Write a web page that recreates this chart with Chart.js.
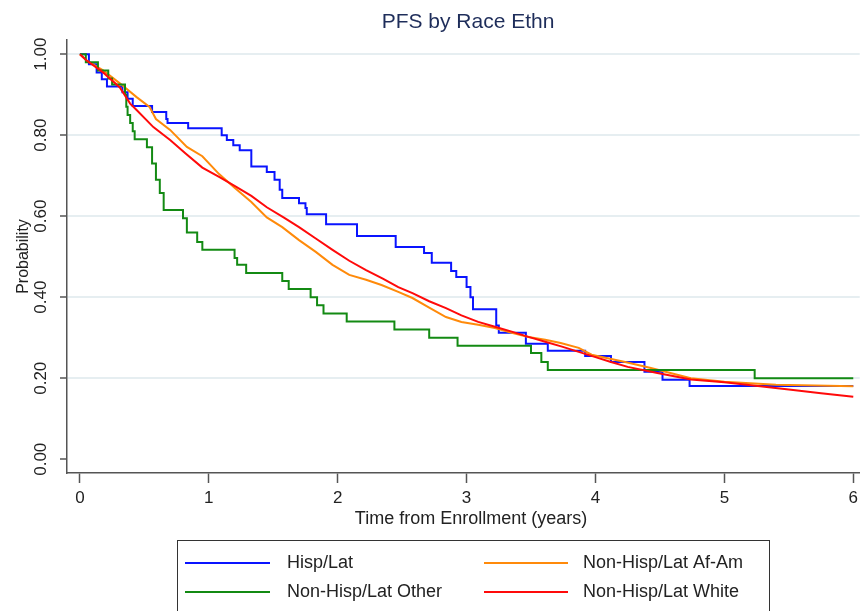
<!DOCTYPE html>
<html>
<head>
<meta charset="utf-8">
<script src="https://cdn.jsdelivr.net/npm/chart.js@4.4.1/dist/chart.umd.min.js"></script>
<style>
  html, body { margin: 0; padding: 0; background: #fff; }
  #km { display: block; }
</style>
</head>
<body>
<canvas id="km" width="863" height="611"></canvas>
<script>
// Kaplan-Meier PFS estimates, years from enrollment vs survival probability
const hispTime = [0, 0.07, 0.13, 0.17, 0.21, 0.33, 0.37, 0.41, 0.56, 0.67, 0.68, 0.84, 1.10, 1.14, 1.19, 1.24, 1.33, 1.45, 1.51, 1.55, 1.57, 1.70, 1.75, 1.76, 1.91, 2.15, 2.45, 2.67, 2.73, 2.88, 2.92, 3.00, 3.03, 3.05, 3.23, 3.25, 3.46, 3.63, 3.92, 4.12, 4.38, 4.52, 4.73, 6.00];
const hispSurv = [1, 0.975, 0.955, 0.938, 0.92, 0.906, 0.89, 0.872, 0.857, 0.84, 0.83, 0.817, 0.80, 0.788, 0.775, 0.763, 0.723, 0.709, 0.69, 0.665, 0.645, 0.632, 0.62, 0.605, 0.58, 0.551, 0.524, 0.509, 0.485, 0.465, 0.45, 0.425, 0.40, 0.37, 0.33, 0.312, 0.285, 0.268, 0.255, 0.24, 0.216, 0.196, 0.181, 0.181];

const afamTime = [0, 0.05, 0.18, 0.31, 0.44, 0.54, 0.59, 0.70, 0.83, 0.95, 1.08, 1.20, 1.33, 1.45, 1.57, 1.70, 1.83, 1.96, 2.09, 2.22, 2.34, 2.47, 2.58, 2.71, 2.84, 2.96, 3.09, 3.22, 3.35, 3.48, 3.61, 3.73, 3.87, 3.97, 4.23, 4.43, 4.74, 5.00, 5.40, 6.00];
const afamSurv = [1, 0.985, 0.96, 0.928, 0.894, 0.87, 0.84, 0.813, 0.771, 0.748, 0.704, 0.67, 0.635, 0.597, 0.573, 0.541, 0.512, 0.48, 0.455, 0.443, 0.43, 0.413, 0.398, 0.374, 0.351, 0.339, 0.332, 0.324, 0.312, 0.302, 0.295, 0.287, 0.275, 0.258, 0.24, 0.225, 0.20, 0.191, 0.184, 0.18];

const otherTime = [0, 0.046, 0.14, 0.22, 0.25, 0.35, 0.36, 0.37, 0.39, 0.41, 0.425, 0.52, 0.56, 0.59, 0.62, 0.65, 0.80, 0.83, 0.91, 0.95, 1.20, 1.22, 1.29, 1.57, 1.62, 1.79, 1.84, 1.89, 2.07, 2.44, 2.71, 2.93, 3.50, 3.58, 3.63, 5.235, 6.00];
const otherSurv = [1, 0.98, 0.96, 0.94, 0.925, 0.90, 0.87, 0.85, 0.83, 0.81, 0.79, 0.77, 0.73, 0.69, 0.657, 0.615, 0.595, 0.56, 0.536, 0.517, 0.497, 0.48, 0.46, 0.44, 0.42, 0.40, 0.38, 0.36, 0.34, 0.32, 0.30, 0.28, 0.262, 0.24, 0.22, 0.20, 0.20];

const whiteTime = [0, 0.05, 0.18, 0.31, 0.39, 0.44, 0.57, 0.70, 0.82, 0.95, 1.08, 1.20, 1.33, 1.45, 1.58, 1.70, 1.83, 1.96, 2.09, 2.22, 2.35, 2.47, 2.58, 2.71, 2.84, 2.96, 3.09, 3.22, 3.35, 3.48, 3.61, 3.74, 3.87, 4.00, 4.12, 4.25, 4.48, 4.74, 5.00, 5.26, 5.50, 5.75, 6.00];
const whiteSurv = [1, 0.985, 0.955, 0.918, 0.878, 0.862, 0.82, 0.788, 0.755, 0.72, 0.697, 0.675, 0.65, 0.622, 0.597, 0.573, 0.545, 0.517, 0.49, 0.467, 0.446, 0.425, 0.41, 0.39, 0.373, 0.355, 0.339, 0.327, 0.315, 0.302, 0.29, 0.278, 0.265, 0.252, 0.24, 0.228, 0.213, 0.197, 0.19, 0.181, 0.172, 0.163, 0.154];

const groupNames = ['Hisp/Lat', 'Non-Hisp/Lat Af-Am', 'Non-Hisp/Lat Other', 'Non-Hisp/Lat White'];
const groupColors = ['#0a14ff', '#ff8a0a', '#138a13', '#ff0a0a'];

const xTicks = [0, 1, 2, 3, 4, 5, 6];
const yTicks = [0, 0.2, 0.4, 0.6, 0.8, 1.0];
const yTickLabels = ['0.00', '0.20', '0.40', '0.60', '0.80', '1.00'];

const FONT = '"Liberation Sans", Arial, sans-serif';

function pts(t, s) {
  return t.map((v, i) => ({ x: v, y: s[i] }));
}

// titles, rotated y labels and the boxed legend
const decorations = {
  id: 'decorations',
  afterDraw(chart) {
    const ctx = chart.ctx;
    const y = chart.scales.y;
    const area = chart.chartArea;
    ctx.save();

    ctx.fillStyle = '#1e2d5a';
    ctx.font = '21px ' + FONT;
    ctx.textAlign = 'center';
    ctx.textBaseline = 'middle';
    ctx.fillText('PFS by Race Ethn', 468, 22);

    ctx.fillStyle = '#222';
    ctx.font = '17px ' + FONT;
    yTicks.forEach((v, i) => {
      ctx.save();
      ctx.translate(41, y.getPixelForValue(v));
      ctx.rotate(-Math.PI / 2);
      ctx.fillText(yTickLabels[i], 0, 0);
      ctx.restore();
    });

    ctx.font = '16px ' + FONT;
    ctx.save();
    ctx.translate(24, (area.top + area.bottom) / 2);
    ctx.rotate(-Math.PI / 2);
    ctx.fillText('Probability', 0, 0);
    ctx.restore();

    ctx.font = '18px ' + FONT;
    ctx.fillText('Time from Enrollment (years)', 471, 519);

    // legend
    ctx.strokeStyle = '#333';
    ctx.lineWidth = 1;
    ctx.strokeRect(177.5, 540.5, 592, 90);
    const cols = [[185, 270, 287], [484, 568, 583]];
    const rows = [563, 592];
    ctx.textAlign = 'left';
    ctx.font = '18px ' + FONT;
    chart.data.datasets.forEach((ds, i) => {
      const c = cols[i % 2];
      const ry = rows[Math.floor(i / 2)];
      ctx.strokeStyle = ds.borderColor;
      ctx.lineWidth = 2;
      ctx.beginPath();
      ctx.moveTo(c[0], ry);
      ctx.lineTo(c[1], ry);
      ctx.stroke();
      ctx.fillStyle = '#222';
      ctx.fillText(ds.label, c[2], ry);
    });
    ctx.restore();
  }
};

const series = [
  pts(hispTime, hispSurv),
  pts(afamTime, afamSurv),
  pts(otherTime, otherSurv),
  pts(whiteTime, whiteSurv)
];
const drawOrder = [3, 2, 1, 0];

new Chart(document.getElementById('km'), {
  type: 'line',
  data: {
    datasets: series.map((d, i) => ({
      label: groupNames[i],
      data: d,
      borderColor: groupColors[i],
      backgroundColor: groupColors[i],
      borderWidth: 2,
      pointRadius: 0,
      stepped: i === 1 || i === 3 ? false : 'before',
      tension: 0,
      order: drawOrder[i]
    }))
  },
  options: {
    responsive: false,
    animation: false,
    layout: { padding: { top: 40, right: 0, left: 0, bottom: 0 } },
    plugins: {
      legend: { display: false },
      title: { display: false },
      tooltip: { enabled: false }
    },
    scales: {
      x: {
        type: 'linear',
        min: -0.1,
        max: 6.05,
        afterBuildTicks: (s) => { s.ticks = xTicks.map(v => ({ value: v })); },
        afterFit: (s) => { s.height = 138; },
        grid: { drawOnChartArea: false, drawTicks: true, tickLength: 10, tickColor: '#555', tickWidth: 1.5 },
        border: { color: '#555', width: 1.5 },
        ticks: {
          font: { family: FONT, size: 17 },
          color: '#222',
          padding: 5,
          maxRotation: 0,
          callback: (v) => String(v)
        }
      },
      y: {
        type: 'linear',
        min: -0.034,
        max: 1.035,
        afterBuildTicks: (s) => { s.ticks = yTicks.map(v => ({ value: v })); },
        afterFit: (s) => { s.width = 67; },
        grid: {
          color: (c) => (c.tick && c.tick.value === 0 ? 'rgba(0,0,0,0)' : '#e6eef1'),
          lineWidth: 2,
          drawTicks: true,
          tickLength: 7,
          tickColor: '#555',
          tickWidth: 1.5
        },
        border: { color: '#555', width: 1.5 },
        ticks: { display: false }
      }
    }
  },
  plugins: [decorations]
});
</script>
</body>
</html>
